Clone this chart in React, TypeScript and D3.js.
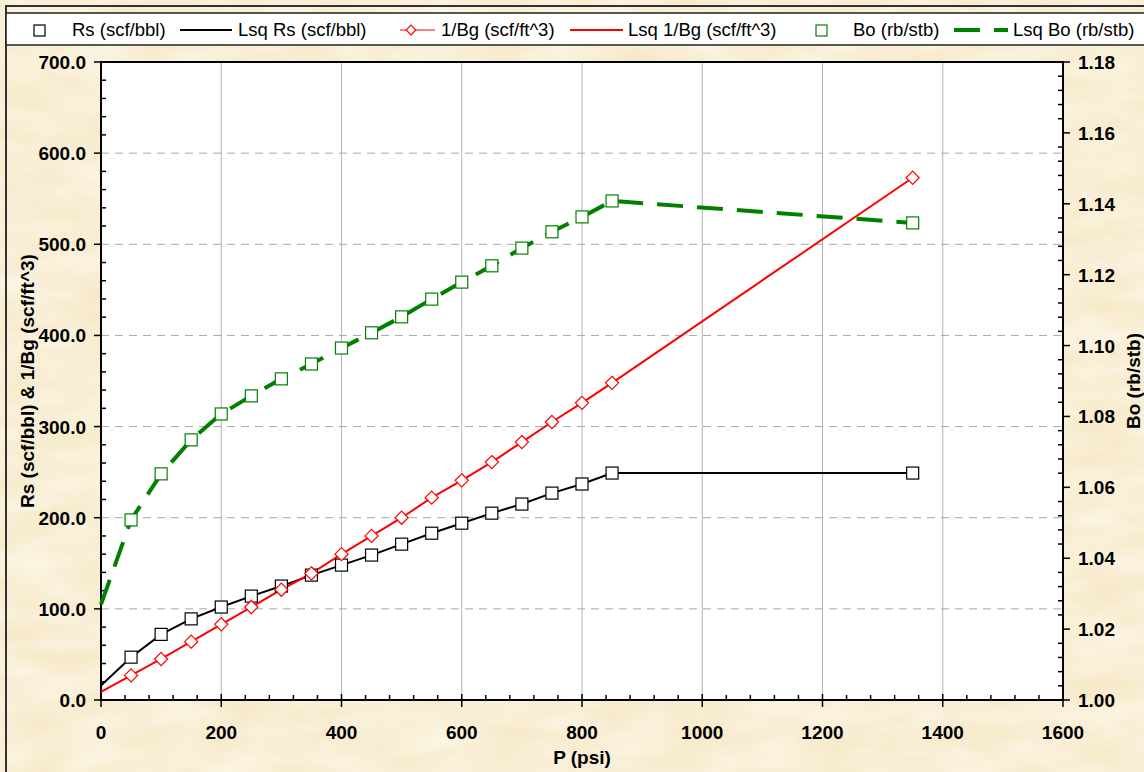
import { useRef, useEffect } from 'react';
import * as d3 from 'd3';

// pressure steps for the measured points
const pressures: number[] = [50, 100, 150, 200, 250, 300, 350, 400, 450, 500, 550, 600, 650, 700, 750, 800, 850, 1350];
const rsValues: number[] = [47, 72, 89, 102, 114, 125, 137, 148, 159, 171, 183, 194, 205, 215, 227, 237, 249, 249];
const invBgValues: number[] = [27, 45, 64, 83, 102, 121, 139, 160, 180, 200, 222, 241, 261, 283, 305, 326, 348, 573];
const boValues: number[] = [1.0508, 1.0638, 1.0734, 1.0807, 1.0858, 1.0906, 1.0948, 1.0993, 1.1036, 1.1081, 1.1131, 1.1179, 1.1225, 1.1275, 1.1321, 1.1363, 1.1408, 1.1346];

// least squares curves (extend to p = 0)
const lsqPressures: number[] = [0, 50, 100, 150, 200, 250, 300, 350, 400, 450, 500, 550, 600, 650, 700, 750, 800, 850, 1350];
const lsqRs: number[] = [16, 47, 72, 89, 102, 114, 125, 137, 148, 159, 171, 183, 194, 205, 215, 227, 237, 249, 249];
const lsqInvBg: number[] = [9, 27, 45, 64, 83, 102, 121, 139, 160, 180, 200, 222, 241, 261, 283, 305, 326, 348, 573];
const lsqBo: number[] = [1.027, 1.0508, 1.0638, 1.0734, 1.0807, 1.0858, 1.0906, 1.0948, 1.0993, 1.1036, 1.1081, 1.1131, 1.1179, 1.1225, 1.1275, 1.1321, 1.1363, 1.1408, 1.1346];

const xTicks: number[] = [0, 200, 400, 600, 800, 1000, 1200, 1400, 1600];
const yLeftTicks: number[] = [0, 100, 200, 300, 400, 500, 600, 700];
const yRightTicks: number[] = [1.0, 1.02, 1.04, 1.06, 1.08, 1.1, 1.12, 1.14, 1.16, 1.18];

export default function App() {
  const chartRef = useRef<SVGSVGElement | null>(null);

  useEffect(() => {
    if (!chartRef.current) return;
    const W = 1144;
    const H = 772;
    const left = 101, right = 1063, top = 62, bottom = 700;
    const font = 'Liberation Sans, Arial, sans-serif';

    const svg = d3.select(chartRef.current).attr('width', W).attr('height', H);
    svg.selectAll('*').remove();

    // parchment background
    const defs = svg.append('defs');
    const filt = defs.append('filter').attr('id', 'paper').attr('x', 0).attr('y', 0).attr('width', '100%').attr('height', '100%');
    filt.append('feTurbulence').attr('type', 'fractalNoise').attr('baseFrequency', '0.015 0.04').attr('numOctaves', 3).attr('seed', 4);
    filt.append('feColorMatrix').attr('type', 'matrix')
      .attr('values', '0 0 0 0 1  0 0 0 0 0.98  0 0 0 0 0.92  0 0 0 -0.9 0.7');
    svg.append('rect').attr('width', W).attr('height', H).attr('fill', '#f7eacb');
    svg.append('rect').attr('width', W).attr('height', H).attr('filter', 'url(#paper)');

    // outer frame
    svg.append('rect').attr('x', 6).attr('y', 6).attr('width', W + 10).attr('height', H + 10)
      .attr('fill', 'none').attr('stroke', '#333').attr('stroke-width', 2);

    const x = d3.scaleLinear().domain([0, 1600]).range([left, right]);
    const yL = d3.scaleLinear().domain([0, 700]).range([bottom, top]);
    const yR = d3.scaleLinear().domain([1.0, 1.18]).range([bottom, top]);

    // plot area
    svg.append('rect').attr('x', left).attr('y', top).attr('width', right - left).attr('height', bottom - top).attr('fill', '#fff');

    // grid
    svg.append('g').selectAll('line').data(xTicks.slice(1, -1)).enter().append('line')
      .attr('x1', (d) => x(d)).attr('x2', (d) => x(d)).attr('y1', top).attr('y2', bottom)
      .attr('stroke', '#b4b4b4').attr('stroke-width', 1);
    svg.append('g').selectAll('line').data(yLeftTicks.slice(1, -1)).enter().append('line')
      .attr('x1', left).attr('x2', right).attr('y1', (d) => yL(d)).attr('y2', (d) => yL(d))
      .attr('stroke', '#a8a8a8').attr('stroke-width', 1).attr('stroke-dasharray', '8 6');

    // plot border
    svg.append('rect').attr('x', left).attr('y', top).attr('width', right - left).attr('height', bottom - top)
      .attr('fill', 'none').attr('stroke', '#000').attr('stroke-width', 2);

    // ticks
    const tickG = svg.append('g').attr('stroke', '#000').attr('stroke-width', 1.5);
    tickG.selectAll('.xmaj').data(xTicks).enter().append('line')
      .attr('x1', (d) => x(d)).attr('x2', (d) => x(d)).attr('y1', bottom - 6).attr('y2', bottom + 7);
    tickG.selectAll('.xmin').data(d3.range(40, 1600, 40).filter((d) => d % 200 !== 0)).enter().append('line')
      .attr('x1', (d) => x(d)).attr('x2', (d) => x(d)).attr('y1', bottom - 5).attr('y2', bottom);
    tickG.selectAll('.ylmaj').data(yLeftTicks).enter().append('line')
      .attr('x1', left - 7).attr('x2', left).attr('y1', (d) => yL(d)).attr('y2', (d) => yL(d));
    tickG.selectAll('.ylmin').data(d3.range(20, 700, 20).filter((d) => d % 100 !== 0)).enter().append('line')
      .attr('x1', left).attr('x2', left + 5).attr('y1', (d) => yL(d)).attr('y2', (d) => yL(d));
    tickG.selectAll('.yrmaj').data(yRightTicks).enter().append('line')
      .attr('x1', right).attr('x2', right + 7).attr('y1', (d) => yR(d)).attr('y2', (d) => yR(d));
    tickG.selectAll('.yrmin').data(d3.range(0, 45).map((i) => 1 + i * 0.004).filter((_, i) => i % 5 !== 0)).enter().append('line')
      .attr('x1', right - 5).attr('x2', right).attr('y1', (d) => yR(d)).attr('y2', (d) => yR(d));

    // tick labels
    const lab = svg.append('g').attr('font-family', font).attr('font-weight', 'bold').attr('font-size', 19).attr('fill', '#000');
    lab.selectAll('.xl').data(xTicks).enter().append('text')
      .attr('x', (d) => x(d)).attr('y', 739).attr('text-anchor', 'middle').text((d) => String(d));
    lab.selectAll('.yl').data(yLeftTicks).enter().append('text')
      .attr('x', 86).attr('y', (d) => yL(d) + 7).attr('text-anchor', 'end').text((d) => d.toFixed(1));
    lab.selectAll('.yr').data(yRightTicks).enter().append('text')
      .attr('x', 1078).attr('y', (d) => yR(d) + 7).attr('text-anchor', 'start').text((d) => d.toFixed(2));

    // axis titles
    lab.append('text').attr('x', (left + right) / 2).attr('y', 764).attr('text-anchor', 'middle').text('P (psi)');
    lab.append('text').attr('transform', 'translate(34,381) rotate(-90)').attr('text-anchor', 'middle')
      .text('Rs (scf/bbl) & 1/Bg (scf/ft^3)');
    lab.append('text').attr('transform', 'translate(1140,381) rotate(-90)').attr('text-anchor', 'middle')
      .text('Bo (rb/stb)');

    // lines
    const lineL = d3.line<number>().x((_, i) => x(lsqPressures[i])).y((d) => yL(d));
    const lineR = d3.line<number>().x((_, i) => x(lsqPressures[i])).y((d) => yR(d));
    const plot = svg.append('g');
    plot.append('path').attr('d', lineR(lsqBo)).attr('fill', 'none').attr('stroke', '#008000')
      .attr('stroke-width', 4).attr('stroke-dasharray', '26 14');
    plot.append('path').attr('d', lineL(lsqRs)).attr('fill', 'none').attr('stroke', '#000').attr('stroke-width', 2);
    plot.append('path').attr('d', lineL(lsqInvBg)).attr('fill', 'none').attr('stroke', '#ff0000').attr('stroke-width', 2);

    // markers
    const s = 12;
    plot.selectAll('.bo').data(boValues).enter().append('rect')
      .attr('x', (_, i) => x(pressures[i]) - s / 2).attr('y', (d) => yR(d) - s / 2)
      .attr('width', s).attr('height', s).attr('fill', '#fff').attr('stroke', '#008000').attr('stroke-width', 1.2);
    plot.selectAll('.rs').data(rsValues).enter().append('rect')
      .attr('x', (_, i) => x(pressures[i]) - s / 2).attr('y', (d) => yL(d) - s / 2)
      .attr('width', s).attr('height', s).attr('fill', '#fff').attr('stroke', '#000').attr('stroke-width', 1.2);
    const dia = d3.symbol().type(d3.symbolDiamond2).size(110);
    plot.selectAll('.bg').data(invBgValues).enter().append('path')
      .attr('d', dia() as string)
      .attr('transform', (d, i) => `translate(${x(pressures[i])},${yL(d)})`)
      .attr('fill', '#fff').attr('stroke', '#ff0000').attr('stroke-width', 1.2);

    // legend
    const lg = svg.append('g').attr('font-family', font).attr('font-size', 18.5).attr('fill', '#000');
    lg.append('rect').attr('x', 6).attr('y', 13).attr('width', W + 10).attr('height', 32)
      .attr('fill', '#fff').attr('stroke', '#222').attr('stroke-width', 1.5);
    const ly = 30;
    lg.append('rect').attr('x', 34).attr('y', ly - 5).attr('width', 11).attr('height', 11)
      .attr('fill', '#fff').attr('stroke', '#000').attr('stroke-width', 1.2);
    lg.append('text').attr('x', 72).attr('y', ly + 6).text('Rs (scf/bbl)');
    lg.append('line').attr('x1', 180).attr('x2', 232).attr('y1', ly).attr('y2', ly).attr('stroke', '#000').attr('stroke-width', 2);
    lg.append('text').attr('x', 238).attr('y', ly + 6).text('Lsq Rs (scf/bbl)');
    lg.append('line').attr('x1', 400).attr('x2', 435).attr('y1', ly).attr('y2', ly).attr('stroke', '#ff0000').attr('stroke-width', 1.2);
    lg.append('path').attr('d', d3.symbol().type(d3.symbolDiamond2).size(60)() as string)
      .attr('transform', `translate(411,${ly})`).attr('fill', '#fff').attr('stroke', '#ff0000').attr('stroke-width', 1.2);
    lg.append('text').attr('x', 441).attr('y', ly + 6).text('1/Bg (scf/ft^3)');
    lg.append('line').attr('x1', 570).attr('x2', 623).attr('y1', ly).attr('y2', ly).attr('stroke', '#ff0000').attr('stroke-width', 2);
    lg.append('text').attr('x', 628).attr('y', ly + 6).text('Lsq 1/Bg (scf/ft^3)');
    lg.append('rect').attr('x', 816).attr('y', ly - 5).attr('width', 11).attr('height', 11)
      .attr('fill', '#fff').attr('stroke', '#008000').attr('stroke-width', 1.2);
    lg.append('text').attr('x', 853).attr('y', ly + 6).text('Bo (rb/stb)');
    lg.append('line').attr('x1', 954).attr('x2', 1008).attr('y1', ly).attr('y2', ly).attr('stroke', '#008000')
      .attr('stroke-width', 4).attr('stroke-dasharray', '26 14');
    lg.append('text').attr('x', 1013).attr('y', ly + 6).text('Lsq Bo (rb/stb)');
  }, []);

  return (
    <div style={{ position: 'absolute', left: 0, top: 0 }}>
      <svg ref={chartRef} style={{ display: 'block' }}></svg>
    </div>
  );
}
